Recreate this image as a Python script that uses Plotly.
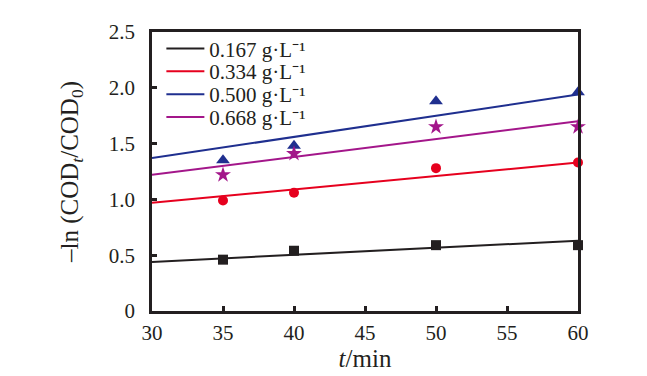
import plotly.graph_objects as go

t = [35, 40, 50, 60]
labels = ["0.167 g·L⁻¹", "0.334 g·L⁻¹", "0.500 g·L⁻¹", "0.668 g·L⁻¹"]
y_0167 = [0.46, 0.54, 0.59, 0.59]
y_0334 = [0.99, 1.06, 1.28, 1.33]
y_0500 = [1.35, 1.48, 1.88, 1.96]
y_0668 = [1.22, 1.41, 1.65, 1.65]
fit_t = [30, 60]
fit_0167 = [0.44, 0.63]
fit_0334 = [0.97, 1.33]
fit_0500 = [1.37, 1.94]
fit_0668 = [1.22, 1.70]

colors = ["#231f20", "#e6001e", "#1f2f8f", "#a3168a"]
symbols = ["square", "circle", "triangle-up", "star"]
sizes = [10, 10, 12, 12]
ys = [y_0167, y_0334, y_0500, y_0668]
fits = [fit_0167, fit_0334, fit_0500, fit_0668]
legend_ids = ["legend", "legend2", "legend3", "legend4"]
legend_y = [0.94, 0.858, 0.776, 0.694]

fig = go.Figure()
for lab, c, yv, fv, lid in zip(labels, colors, ys, fits, legend_ids):
    fig.add_trace(go.Scatter(x=fit_t, y=fv, mode="lines", name=lab, legend=lid,
                             line=dict(color=c, width=2)))
for c, s, sz, yv in zip(colors, symbols, sizes, ys):
    fig.add_trace(go.Scatter(x=t, y=yv, mode="markers", showlegend=False, cliponaxis=False,
                             marker=dict(color=c, symbol=s, size=sz, line=dict(width=0))))

font = dict(family="Liberation Serif, Times New Roman, serif", size=21, color="#231f20")
legends = {}
for lid, ly in zip(legend_ids, legend_y):
    legends[lid] = dict(x=0.022, y=ly, xanchor="left", yanchor="middle",
                        bgcolor="rgba(0,0,0,0)", font=dict(size=21), itemwidth=38)
fig.update_layout(
    width=639, height=368,
    margin=dict(l=144, r=69, t=22, b=57),
    paper_bgcolor="white", plot_bgcolor="white",
    font=font,
    showlegend=True,
    xaxis=dict(range=[30, 60], tickvals=[30, 35, 40, 45, 50, 55, 60],
               ticks="inside", ticklen=5, tickwidth=2.5, tickcolor="#231f20",
               showline=True, linewidth=2.5, linecolor="#231f20", mirror=True,
               showgrid=False, zeroline=False, ticklabelstandoff=1,
               title=dict(text="<i>t</i>/min", standoff=2)),
    yaxis=dict(range=[0, 2.5], tickvals=[0, 0.5, 1.0, 1.5, 2.0, 2.5],
               ticktext=["0", "0.5", "1.0", "1.5", "2.0", "2.5"],
               ticks="inside", ticklen=5, tickwidth=2.5, tickcolor="#231f20",
               showline=True, linewidth=2.5, linecolor="#231f20", mirror=True,
               showgrid=False, zeroline=False, ticklabelstandoff=10,
               title=dict(text="–ln (COD<sub><i>t</i></sub>/COD<sub>0</sub>)", standoff=24)),
    **legends,
)
fig.write_html("out.html")
